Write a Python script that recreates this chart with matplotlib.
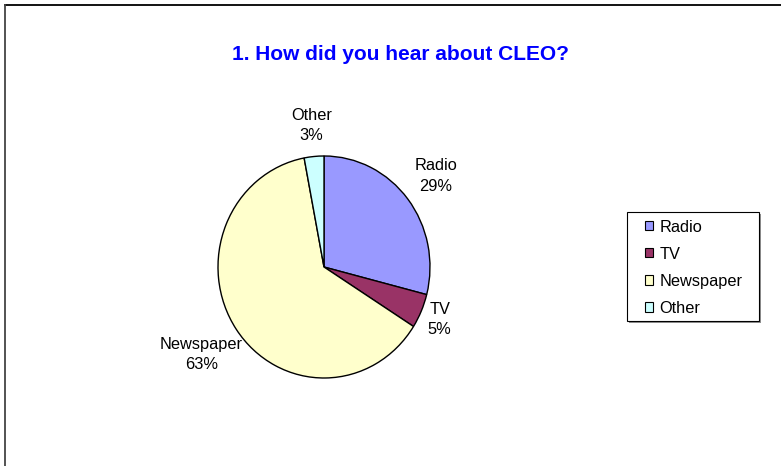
import matplotlib
matplotlib.use("Agg")
import matplotlib.pyplot as plt
from matplotlib.lines import Line2D
from matplotlib.patches import Rectangle
import numpy as np

categories = ["Radio", "TV", "Newspaper", "Other"]
values = [29, 5, 63, 3]
colors = ["#9999FF", "#993366", "#FFFFCC", "#CCFFFF"]
title = "1. How did you hear about CLEO?"

plt.rcParams["font.family"] = ["Liberation Sans", "DejaVu Sans"]

W, H = 781, 466
fig = plt.figure(figsize=(W / 100, H / 100), dpi=100)

def fx(px):
    return px / W

def fy(py):
    return 1 - py / H

# outer chart-area border (top and left visible)
fig.add_artist(Line2D([fx(5), 1.0], [fy(5), fy(5)], transform=fig.transFigure,
                      color="black", lw=1.3))
fig.add_artist(Line2D([fx(5), fx(5)], [0, fy(5)], transform=fig.transFigure,
                      color="#444444", lw=1.3))

# pie axes
cx, cy, rx, ry = 324, 267, 106, 111
ax = fig.add_axes([fx(cx - rx), fy(cy + ry), 2 * rx / W, 2 * ry / H])
wedges, _ = ax.pie(values, colors=colors, startangle=90, counterclock=False,
                   wedgeprops=dict(edgecolor="black", linewidth=1.0))
ax.set_aspect("auto")
ax.set_xlim(-1, 1)
ax.set_ylim(-1, 1)
ax.axis("off")

label_radius = [1.335, 1.19, 1.40, 1.278]
total = sum(values)
for w, cat, v, r in zip(wedges, categories, values, label_radius):
    mid = np.deg2rad((w.theta1 + w.theta2) / 2)
    ax.text(r * np.cos(mid), r * np.sin(mid), f"{cat}\n{round(100 * v / total)}%",
            ha="center", va="center", fontsize=11.8, linespacing=1.45,
            clip_on=False)

fig.text(fx(400), fy(55), title, ha="center", va="center", fontsize=15,
         fontweight="bold", color="#0000FF")

# legend box (shadow + frame)
lx0, ly0, lx1, ly1 = 627, 212, 759, 321
fig.add_artist(Rectangle((fx(lx0 + 1.5), fy(ly1 + 1.5)), (lx1 - lx0) / W, (ly1 - ly0) / H,
                         transform=fig.transFigure, facecolor="#909090",
                         edgecolor="none", zorder=1))
fig.add_artist(Rectangle((fx(lx0), fy(ly1)), (lx1 - lx0) / W, (ly1 - ly0) / H,
                         transform=fig.transFigure, facecolor="white",
                         edgecolor="black", lw=0.8, zorder=2))

handles = [Rectangle((0, 0), 1, 1, facecolor=c, edgecolor="black", lw=0.8)
           for c in colors]
leg = fig.legend(handles, categories, loc="upper left",
                 bbox_to_anchor=(fx(645), fy(219.5)), fontsize=11.8,
                 frameon=False, handlelength=0.5, handleheight=0.5,
                 handletextpad=0.4, labelspacing=0.74, borderpad=0,
                 borderaxespad=0)
leg.set_zorder(3)

fig.savefig("out.png", dpi=100)
